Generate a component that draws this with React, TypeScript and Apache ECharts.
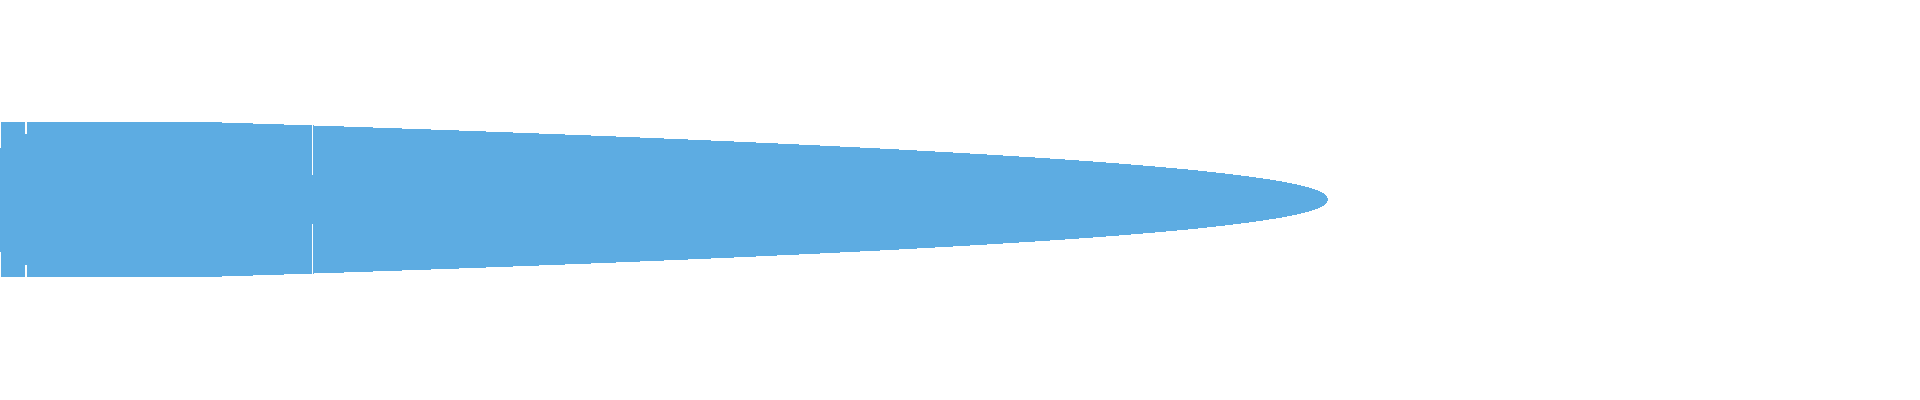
import React, { useEffect, useRef } from "react";
import * as echarts from "echarts";

// Profile of the shape: position along the axis and the half-width at that position
const positions = [
  0, 190, 222, 284, 344, 402, 459, 513, 565, 616, 664, 711, 756, 799, 840, 880,
  917, 953, 987, 1019, 1050, 1079, 1106, 1131, 1155, 1177, 1198, 1216, 1233,
  1249, 1263, 1276, 1287, 1297, 1305, 1312, 1318, 1322, 1325, 1327, 1328,
];
const halfWidths = [
  77.5, 77.5, 77, 75, 73, 71, 69, 67, 65, 63, 61, 59, 57, 55, 53, 51, 49, 47,
  45, 43, 41, 39, 37, 35, 33, 31, 29, 27, 25, 23, 21, 19, 17, 15, 13, 11, 9, 7,
  5, 3, 0,
];

// Segment dividers: position and the half-height of the uncut middle part
const dividerPositions = [0.5, 26, 312.5];
const dividerGaps = [52, 65.5, 24.5];

const midline = 199.5;
const xExtent = [0, 1920];
const yExtent = [0, 400];
const fillColor = "#5dace2";

export default function App() {
  const ref = useRef<HTMLDivElement>(null);

  useEffect(() => {
    if (!ref.current) return;
    const chart = echarts.init(ref.current, null, { renderer: "svg" });
    chart.setOption({
      animation: false,
      grid: { left: 0, right: 0, top: 0, bottom: 0 },
      xAxis: { type: "value", min: xExtent[0], max: xExtent[1], show: false },
      yAxis: {
        type: "value",
        min: yExtent[0],
        max: yExtent[1],
        inverse: true,
        show: false,
      },
      series: [
        {
          type: "custom",
          name: "body",
          silent: true,
          data: positions.map((x, i) => [x, halfWidths[i]]),
          renderItem: (params: any, api: any) => {
            if (params.dataIndexInside !== 0) return null;
            const n = params.dataInsideLength;
            const top: number[][] = [];
            const bottom: number[][] = [];
            for (let i = 0; i < n; i++) {
              const x = api.value(0, i);
              const h = api.value(1, i);
              top.push(api.coord([x, midline - h]));
              bottom.push(api.coord([x, midline + h]));
            }
            return {
              type: "polygon",
              shape: { points: top.concat(bottom.reverse()) },
              style: { fill: fillColor, stroke: null },
            };
          },
        },
        {
          type: "custom",
          name: "dividers",
          silent: true,
          data: dividerPositions.map((x, i) => [x, dividerGaps[i]]),
          renderItem: (params: any, api: any) => {
            const x = api.value(0);
            const g = api.value(1);
            const a = api.coord([x, yExtent[0]]);
            const b = api.coord([x, midline - g]);
            const c = api.coord([x, midline + g]);
            const d = api.coord([x, yExtent[1]]);
            const st = { stroke: "#ffffff", lineWidth: 1.2 };
            return {
              type: "group",
              children: [
                { type: "line", shape: { x1: a[0], y1: a[1], x2: b[0], y2: b[1] }, style: st },
                { type: "line", shape: { x1: c[0], y1: c[1], x2: d[0], y2: d[1] }, style: st },
              ],
            };
          },
        },
      ],
    });
    return () => chart.dispose();
  }, []);

  return (
    <>
      <style>{".crisp svg path { shape-rendering: crispEdges; }"}</style>
      <div
        ref={ref}
        className="crisp"
        style={{ position: "fixed", left: 0, top: 0, width: 1920, height: 400 }}
      />
    </>
  );
}
